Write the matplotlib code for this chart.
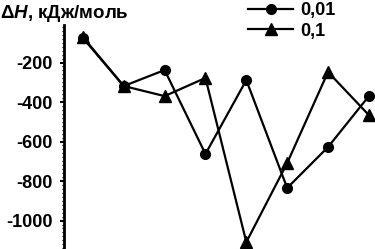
"""Enthalpy change for two concentrations."""

import matplotlib

matplotlib.use("Agg")
import matplotlib.pyplot as plt
from matplotlib.ticker import MultipleLocator

plt.rcParams["font.family"] = ["Liberation Sans", "DejaVu Sans"]
plt.rcParams["font.weight"] = "bold"
plt.rcParams["mathtext.fontset"] = "custom"
plt.rcParams["mathtext.it"] = "Liberation Sans:bold:italic"

points = [1, 2, 3, 4, 5, 6, 7, 8]
dh_001 = [-76, -319, -238, -663, -289, -835, -628, -370]
dh_01 = [-71, -319, -370, -278, -1109, -709, -248, -466]
series_labels = ["0,01", "0,1"]
y_ticks = [-200, -400, -600, -800, -1000]


def main() -> None:
    fig = plt.figure(figsize=(3.75, 2.49), dpi=100)
    ax = fig.add_axes([64 / 375, 0.0, 1 - 64 / 375, 1 - 25 / 249])

    ax.plot(points, dh_001, color="black", linewidth=1.6, marker="o",
            markersize=7, label=series_labels[0], clip_on=False)
    ax.plot(points, dh_01, color="black", linewidth=1.6, marker="^",
            markersize=8, label=series_labels[1], clip_on=False)

    ax.set_xlim(0.537, 8.15)
    ax.set_ylim(-1144, -10)
    ax.set_yticks(y_ticks)
    ax.set_yticklabels([str(t) for t in y_ticks])
    ax.yaxis.set_minor_locator(MultipleLocator(20))
    ax.tick_params(axis="y", which="major", length=3, width=1.5,
                   labelsize=13, pad=5)
    ax.tick_params(axis="y", which="minor", length=1.8, width=1)

    for side in ("top", "right", "bottom"):
        ax.spines[side].set_visible(False)
    ax.spines["left"].set_linewidth(2)
    ax.set_xticks([])

    ax.legend(loc="upper left", bbox_to_anchor=(248 / 375, 1 - 2 / 249),
              bbox_transform=fig.transFigure, frameon=False, fontsize=13,
              handlelength=2.5, handletextpad=0.4, labelspacing=0.2,
              borderpad=0, borderaxespad=0)

    fig.text(0.0, 1 - 3 / 249, r"Δ$\mathit{H}$, кДж/моль", ha="left",
             va="top", fontsize=13.5, fontweight="bold")

    fig.savefig("out.png", dpi=100)
    plt.close(fig)


if __name__ == "__main__":
    main()
